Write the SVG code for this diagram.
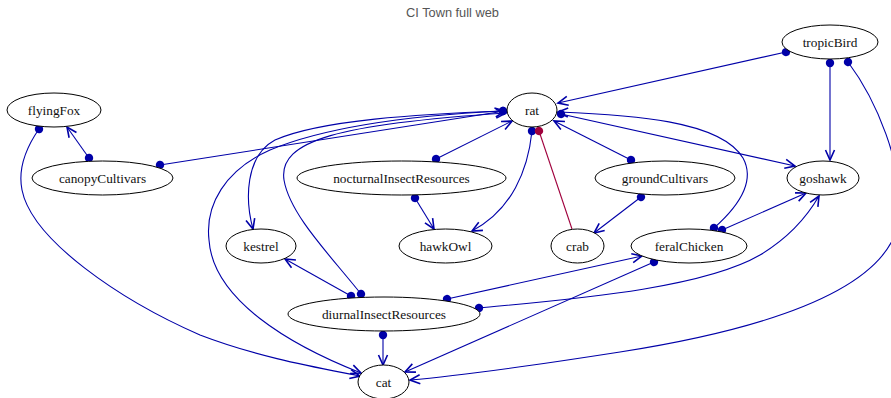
<svg xmlns="http://www.w3.org/2000/svg" width="891" height="398" viewBox="0 0 891 398">
<style>
.n ellipse{fill:#fff;stroke:#000;stroke-width:1}
.n text{font-family:"Liberation Serif","Times New Roman",serif;font-size:13.3px;fill:#111;text-anchor:middle}
.e path{fill:none;stroke:#0000a8;stroke-width:1.1;marker-start:url(#dot);marker-end:url(#vee)}
.e path.r{stroke:#a0003c;marker-start:url(#rdot);marker-end:none}
.title{font-family:"Liberation Sans",Arial,sans-serif;font-size:12.8px;fill:#555;text-anchor:middle}
</style>
<defs>
<marker id="vee" markerUnits="userSpaceOnUse" markerWidth="14" markerHeight="12" viewBox="-12 -6 14 12" refX="0" refY="0" orient="auto" overflow="visible">
<path d="M-10,-4.5 L0,0 L-10,4.5" fill="none" stroke="#0000a8" stroke-width="1.6"/>
</marker>
<marker id="dot" markerUnits="userSpaceOnUse" markerWidth="10" markerHeight="10" viewBox="-5 -5 10 10" refX="0" refY="0" orient="auto" overflow="visible">
<circle cx="0" cy="0" r="4.2" fill="#0000a8"/>
</marker>
<marker id="rdot" markerUnits="userSpaceOnUse" markerWidth="10" markerHeight="10" viewBox="-5 -5 10 10" refX="0" refY="0" orient="auto" overflow="visible">
<circle cx="0" cy="0" r="4.2" fill="#a0003c"/>
</marker>
</defs>
<rect width="891" height="398" fill="#fff"/>
<text class="title" x="452.5" y="17">CI Town full web</text>
<g id="connectors" class="e">
<path id="tropicBird-rat" d="M786,52 L558,103"/>
<path id="tropicBird-goshawk" d="M830,63 L830,160"/>
<path id="tropicBird-cat" d="M848,62 C875,98 905,165 899,220 C888,292 760,330 620,352 C530,366 460,376 410,380"/>
<path id="flyingFox-cat" d="M39,129 C30,142 17,165 22,190 C32,240 120,300 200,335 C260,358 320,368 360,376"/>
<path id="canopyCultivars-flyingFox" d="M89,158 L67,127"/>
<path id="canopyCultivars-rat" d="M160,165 L505,111"/>
<path id="rat-cat" d="M503,111 C420,115 330,125 270,150 C225,170 205,205 209,240 C213,300 290,345 361,373"/>
<path id="rat-kestrel" d="M503,111 C420,114 320,120 275,140 C245,156 245,200 253,229"/>
<path id="diurnalInsectResources-rat" d="M361,294 C330,255 290,215 284,180 C278,140 340,124 506,113"/>
<path id="nocturnalInsectResources-rat" d="M436,159 L512,121"/>
<path id="nocturnalInsectResources-hawkOwl" d="M415,198 L434,229"/>
<path id="rat-hawkOwl" d="M532,131 C528,170 512,210 472,231"/>
<path id="rat-crab" class="r" d="M539,131 L572,229"/>
<path id="groundCultivars-rat" d="M631,160 L554,121"/>
<path id="groundCultivars-crab" d="M641,197 L594,233"/>
<path id="rat-goshawk" d="M561,114 L795,166"/>
<path id="feralChicken-rat" d="M714,228 C740,205 755,180 743,158 C720,120 630,115 558,112"/>
<path id="feralChicken-goshawk" d="M722,230 L806,193"/>
<path id="diurnalInsectResources-kestrel" d="M351,296 L285,259"/>
<path id="diurnalInsectResources-cat" d="M383,335 L383,365"/>
<path id="diurnalInsectResources-feralChicken" d="M447,299 L642,256"/>
<path id="diurnalInsectResources-goshawk" d="M479,308 C560,300 700,290 760,255 C790,237 808,215 819,196"/>
<path id="feralChicken-cat" d="M654,262 L405,372"/>
</g>
<g id="tropicBird" class="n"><ellipse cx="830" cy="42" rx="48" ry="17"/><text x="830" y="47">tropicBird</text></g>
<g id="flyingFox" class="n"><ellipse cx="54" cy="110" rx="47" ry="17"/><text x="54" y="115">flyingFox</text></g>
<g id="rat" class="n"><ellipse cx="532" cy="110" rx="25" ry="17"/><text x="532" y="115">rat</text></g>
<g id="canopyCultivars" class="n"><ellipse cx="102.5" cy="178" rx="70.5" ry="17"/><text x="102.5" y="183">canopyCultivars</text></g>
<g id="nocturnalInsectResources" class="n"><ellipse cx="401.5" cy="178" rx="104.5" ry="17"/><text x="401.5" y="183">nocturnalInsectResources</text></g>
<g id="groundCultivars" class="n"><ellipse cx="665" cy="178" rx="70" ry="17"/><text x="665" y="183">groundCultivars</text></g>
<g id="goshawk" class="n"><ellipse cx="823" cy="178" rx="36" ry="17"/><text x="823" y="183">goshawk</text></g>
<g id="kestrel" class="n"><ellipse cx="261" cy="246" rx="35" ry="17"/><text x="261" y="251">kestrel</text></g>
<g id="hawkOwl" class="n"><ellipse cx="445.5" cy="246" rx="46.5" ry="17"/><text x="445.5" y="251">hawkOwl</text></g>
<g id="crab" class="n"><ellipse cx="577.5" cy="246" rx="26.5" ry="17"/><text x="577.5" y="251">crab</text></g>
<g id="feralChicken" class="n"><ellipse cx="689" cy="246" rx="58" ry="17"/><text x="689" y="251">feralChicken</text></g>
<g id="diurnalInsectResources" class="n"><ellipse cx="384" cy="314" rx="96" ry="17"/><text x="384" y="319">diurnalInsectResources</text></g>
<g id="cat" class="n"><ellipse cx="383.5" cy="382" rx="25.5" ry="17"/><text x="383.5" y="387">cat</text></g>
</svg>
